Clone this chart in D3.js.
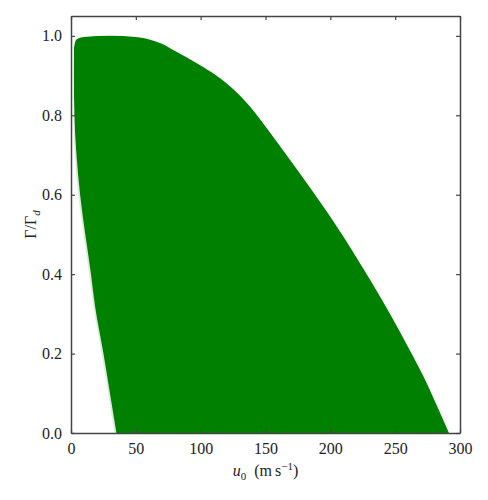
<!DOCTYPE html>
<html>
<head>
<meta charset="utf-8">
<script src="https://cdn.jsdelivr.net/npm/d3@7"></script>
<style>
body { margin: 0; background: #fff; }
</style>
</head>
<body>
<div id="chart-area"></div>
<script>
// upper (right) edge of the region, u0 vs Gamma/Gamma_d
const upperU = [2.3, 4, 10, 30, 50, 61, 70, 78.5, 99, 112, 125, 138, 150, 160, 176, 192, 207, 225, 240, 253, 264, 274, 283, 291.5]
const upperG = [0.97, 0.99, 0.997, 1.0, 0.997, 0.99, 0.98, 0.965, 0.927, 0.9, 0.866, 0.822, 0.772, 0.728, 0.656, 0.582, 0.51, 0.416, 0.334, 0.259, 0.192, 0.128, 0.063, 0]
// lower (left) edge of the region
const lowerU = [2.3, 2.2, 2.6, 4.2, 7, 11, 15.4, 18.5, 25, 30, 35]
const lowerG = [0.97, 0.9, 0.8, 0.7, 0.6, 0.5, 0.4, 0.32, 0.2, 0.1, 0]
// faint grey band just left of the lower edge
const shadowU = [2.5, 2.4, 3.0, 5.6, 9.6, 14.0, 17.2, 23.6, 28.6, 33.6]
const shadowG = [0.8, 0.75, 0.7, 0.6, 0.5, 0.4, 0.32, 0.2, 0.1, 0]

const xTicks = [0, 50, 100, 150, 200, 250, 300]
const yTicks = [0, 0.2, 0.4, 0.6, 0.8, 1.0]

const MARGIN = { LEFT: 71, RIGHT: 28, TOP: 16, BOTTOM: 67 }
const WIDTH = 488 - MARGIN.LEFT - MARGIN.RIGHT
const HEIGHT = 500 - MARGIN.TOP - MARGIN.BOTTOM
const FONT = '"Liberation Serif", "Times New Roman", "DejaVu Serif", serif'

const svg = d3.select('#chart-area').append('svg')
.attr('width', 488)
.attr('height', 500)

const g = svg.append('g')
.attr('transform', `translate(${MARGIN.LEFT},${MARGIN.TOP})`)

const x = d3.scaleLinear().domain([0, 300]).range([0, WIDTH])
const y = d3.scaleLinear().domain([0, 1.05]).range([HEIGHT, 0])

const upper = upperU.map((u, i) => [u, upperG[i]])
const lower = lowerU.map((u, i) => [u, lowerG[i]])
const shadow = shadowU.map((u, i) => [u, shadowG[i]])

const upperLine = d3.line().x(d => x(d[0])).y(d => y(d[1])).curve(d3.curveMonotoneX)
const lowerLine = d3.line().x(d => x(d[0])).y(d => y(d[1])).curve(d3.curveMonotoneY)

// grey band: shadow edge, then back up along the green lower edge
const lowerPart = lower.filter(d => d[1] <= 0.8)
g.append('path')
.attr('d', lowerLine(shadow) + lowerLine(lowerPart.slice().reverse()).replace('M', 'L') + 'Z')
.attr('fill', '#e2e7e2')

// green region: upper edge left to right, then lower edge bottom to top
g.append('path')
.attr('d', upperLine(upper) + lowerLine(lower.slice().reverse()).replace('M', 'L') + 'Z')
.attr('fill', '#008000')

const fmt = d3.format('.1f')

g.append('g').attr('class', 'axis')
.attr('transform', `translate(0,${HEIGHT})`)
.call(d3.axisBottom(x).tickValues(xTicks).tickSize(-4).tickPadding(10).tickSizeOuter(0))

g.append('g').attr('class', 'axis')
.call(d3.axisTop(x).tickValues(xTicks).tickSize(-4).tickFormat('').tickSizeOuter(0))

g.append('g').attr('class', 'axis')
.call(d3.axisLeft(y).tickValues(yTicks).tickSize(-4).tickPadding(9).tickFormat(fmt).tickSizeOuter(0))

g.append('g').attr('class', 'axis')
.attr('transform', `translate(${WIDTH},0)`)
.call(d3.axisRight(y).tickValues(yTicks).tickSize(-4).tickFormat('').tickSizeOuter(0))

g.selectAll('.axis').attr('font-family', null).attr('font-size', null)
g.selectAll('.axis text')
.style('font-family', FONT)
.style('font-size', '16px')
.attr('fill', '#222')
g.selectAll('.axis .domain').attr('stroke', '#444').attr('stroke-width', 1.5)
g.selectAll('.axis .tick line').attr('stroke', '#444').attr('stroke-width', 1.2)

// axis labels
const xl = svg.append('text')
.attr('x', MARGIN.LEFT + WIDTH / 2)
.attr('y', 476)
.attr('text-anchor', 'middle')
.style('font-family', FONT)
.style('font-size', '16px')
.attr('fill', '#222')
xl.append('tspan').style('font-style', 'italic').text('u')
xl.append('tspan').attr('dy', 4).style('font-size', '11px').text('0')
xl.append('tspan').attr('dy', -4).text('\u2002(m\u2009s')
xl.append('tspan').attr('dy', -6).style('font-size', '11px').text('\u22121')
xl.append('tspan').attr('dy', 6).text(')')

const yl = svg.append('text')
.attr('transform', `translate(36,${MARGIN.TOP + HEIGHT / 2}) rotate(-90)`)
.attr('text-anchor', 'middle')
.style('font-family', FONT)
.style('font-size', '16px')
.attr('fill', '#222')
yl.append('tspan').text('\u0393/\u0393')
yl.append('tspan').attr('dy', 4).style('font-style', 'italic').style('font-size', '11px').text('d')
</script>
</body>
</html>
